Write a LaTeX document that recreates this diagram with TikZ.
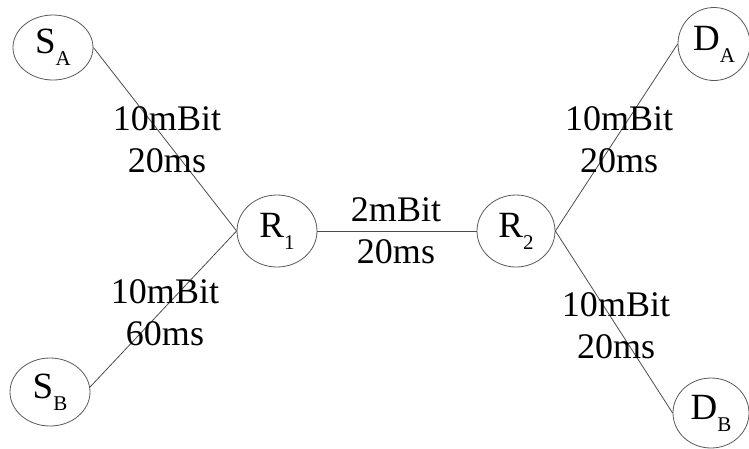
\documentclass[tikz,border=0pt]{standalone}
\usepackage{fontspec}
\setmainfont{Liberation Serif}
\usetikzlibrary{shapes.geometric}
\newcommand{\nodelbl}[2]{{\fontsize{37}{40}\selectfont #1}\raisebox{-12pt}{\fontsize{21}{21}\selectfont #2}}
\tikzset{
  netnode/.style={ellipse, draw=black!65, line width=0.8pt, inner sep=0pt},
  link/.style={draw=black!70, line width=0.8pt},
  linklbl/.style={anchor=base, align=center, inner sep=0pt, font=\fontsize{36}{42}\selectfont}
}
\begin{document}
\begin{tikzpicture}[x=1pt,y=-1pt]
\useasboundingbox (0,0) rectangle (749,448);
\node[netnode, minimum width=80pt, minimum height=65pt] (SA) at (53,47.5) {\nodelbl{S}{A}};
\node[netnode, minimum width=80pt, minimum height=68pt] (SB) at (50,392) {\nodelbl{S}{B}};
\node[netnode, minimum width=80pt, minimum height=72pt] (R1) at (277,231) {\nodelbl{R}{1}};
\node[netnode, minimum width=78pt, minimum height=72pt] (R2) at (516,231) {\nodelbl{R}{2}};
\node[netnode, minimum width=72pt, minimum height=73pt] (DA) at (714,44) {\nodelbl{D}{A}};
\node[netnode, minimum width=76pt, minimum height=70pt] (DB) at (711,413) {\nodelbl{D}{B}};
\draw[link] (SA.east) -- (R1.west);
\draw[link] (SB.7) -- (R1.west);
\draw[link] (R1.east) -- (R2.west);
\draw[link] (R2.east) -- (DA.west);
\draw[link] (R2.east) -- (DB.west);
\node[linklbl] (l1) at (167,172) {10mBit\\20ms};
\node[linklbl] (l2) at (165,345) {10mBit\\60ms};
\node[linklbl] (l3) at (396,263) {2mBit\\20ms};
\node[linklbl] (l4) at (619,172) {10mBit\\20ms};
\node[linklbl] (l5) at (616,358) {10mBit\\20ms};
\end{tikzpicture}
\end{document}
